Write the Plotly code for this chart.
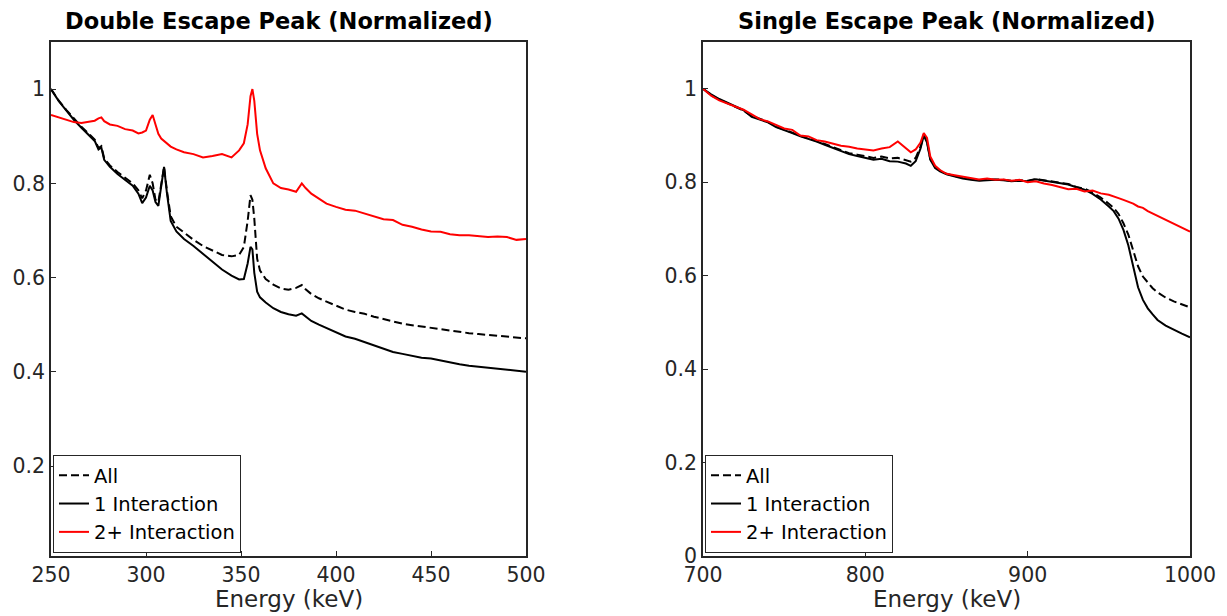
import plotly.graph_objects as go

# ---------------- Double escape peak (left) ----------------
de_energy = [250, 254, 258, 262, 266, 270, 273, 275, 276.5, 278, 281, 285, 289, 293, 296, 298,
             300, 302, 303.5, 305, 306.5, 308, 309.5, 311, 313, 316, 320, 325, 330, 335, 340,
             345, 349, 351.5, 353.5, 355, 356, 357, 358.5, 360, 363, 367, 371, 375, 379, 382,
             384, 387, 391, 395, 400, 405, 410, 415, 420, 425, 430, 435, 440, 445, 450, 455,
             460, 465, 470, 475, 480, 485, 490, 495, 500]
de_all = [1.0, 0.976, 0.956, 0.937, 0.92, 0.905, 0.893, 0.875, 0.879, 0.853, 0.838, 0.824, 0.812,
          0.800, 0.785, 0.768, 0.785, 0.818, 0.80, 0.765, 0.76, 0.795, 0.835, 0.785, 0.73, 0.708,
          0.695, 0.680, 0.667, 0.657, 0.648, 0.645, 0.648, 0.665, 0.72, 0.775, 0.765, 0.725, 0.64,
          0.615, 0.597, 0.585, 0.577, 0.574, 0.578, 0.584, 0.575, 0.565, 0.556, 0.549, 0.540,
          0.532, 0.527, 0.523, 0.517, 0.512, 0.507, 0.502, 0.499, 0.496, 0.494, 0.490, 0.487,
          0.484, 0.482, 0.480, 0.478, 0.477, 0.474, 0.472, 0.471]
de_one = [1.0, 0.975, 0.955, 0.935, 0.918, 0.902, 0.89, 0.872, 0.876, 0.85, 0.835, 0.82, 0.808,
          0.795, 0.778, 0.758, 0.77, 0.795, 0.785, 0.76, 0.752, 0.79, 0.835, 0.78, 0.72, 0.698,
          0.682, 0.667, 0.650, 0.633, 0.617, 0.604, 0.596, 0.597, 0.630, 0.665, 0.660, 0.610,
          0.570, 0.558, 0.547, 0.535, 0.527, 0.522, 0.519, 0.524, 0.518, 0.508, 0.500, 0.493,
          0.485, 0.475, 0.470, 0.463, 0.457, 0.450, 0.442, 0.438, 0.434, 0.430, 0.428, 0.424,
          0.419, 0.416, 0.413, 0.411, 0.409, 0.407, 0.404, 0.402, 0.400]
de_multi = [0.945, 0.940, 0.936, 0.930, 0.928, 0.930, 0.933, 0.938, 0.940, 0.932, 0.925, 0.922,
            0.915, 0.912, 0.906, 0.908, 0.912, 0.935, 0.945, 0.925, 0.905, 0.895, 0.890, 0.885,
            0.878, 0.872, 0.866, 0.862, 0.855, 0.858, 0.862, 0.855, 0.870, 0.885, 0.925, 0.985,
            1.0, 0.975, 0.905, 0.870, 0.832, 0.800, 0.790, 0.787, 0.782, 0.800, 0.790, 0.778,
            0.768, 0.757, 0.750, 0.744, 0.742, 0.736, 0.730, 0.724, 0.722, 0.712, 0.708, 0.702,
            0.698, 0.697, 0.692, 0.690, 0.690, 0.688, 0.686, 0.687, 0.686, 0.680, 0.682]

# ---------------- Single escape peak (right) ----------------
se_energy = [700, 705, 710, 715, 720, 725, 730, 735, 740, 745, 750, 755, 760, 765, 770, 775, 780,
             785, 790, 795, 800, 805, 810, 815, 820, 825, 828, 831, 834, 836, 838, 840, 843, 846,
             850, 855, 860, 865, 870, 875, 880, 885, 890, 895, 900, 905, 910, 915, 920, 925, 930,
             935, 940, 945, 950, 953, 956, 959, 962, 965, 968, 971, 974, 977, 980, 985, 990, 995,
             1000]
se_all = [1.0, 0.986, 0.977, 0.969, 0.962, 0.953, 0.942, 0.935, 0.929, 0.919, 0.913, 0.906, 0.899,
          0.894, 0.888, 0.882, 0.875, 0.869, 0.862, 0.859, 0.855, 0.852, 0.855, 0.851, 0.852,
          0.848, 0.844, 0.852, 0.876, 0.902, 0.887, 0.850, 0.832, 0.825, 0.818, 0.813, 0.810,
          0.806, 0.804, 0.805, 0.806, 0.805, 0.803, 0.804, 0.803, 0.807, 0.804, 0.801, 0.799,
          0.796, 0.790, 0.786, 0.778, 0.767, 0.754, 0.745, 0.732, 0.712, 0.688, 0.655, 0.620,
          0.598, 0.585, 0.573, 0.564, 0.553, 0.545, 0.538, 0.532]
se_one = [1.0, 0.988, 0.978, 0.970, 0.963, 0.954, 0.940, 0.934, 0.928, 0.918, 0.912, 0.905, 0.898,
          0.893, 0.887, 0.880, 0.873, 0.866, 0.860, 0.856, 0.852, 0.848, 0.850, 0.845, 0.844,
          0.840, 0.835, 0.845, 0.872, 0.900, 0.885, 0.848, 0.830, 0.823, 0.817, 0.812, 0.808,
          0.805, 0.803, 0.804, 0.805, 0.804, 0.802, 0.803, 0.802, 0.806, 0.803, 0.800, 0.798,
          0.795, 0.789, 0.784, 0.775, 0.763, 0.748, 0.738, 0.722, 0.698, 0.665, 0.620, 0.575,
          0.548, 0.530, 0.517, 0.505, 0.493, 0.484, 0.476, 0.468]
se_multi = [1.0, 0.985, 0.975, 0.968, 0.962, 0.955, 0.945, 0.935, 0.930, 0.922, 0.915, 0.912,
            0.900, 0.898, 0.890, 0.887, 0.882, 0.878, 0.876, 0.872, 0.870, 0.868, 0.872, 0.875,
            0.887, 0.872, 0.864, 0.870, 0.885, 0.905, 0.895, 0.855, 0.835, 0.826, 0.818, 0.815,
            0.812, 0.810, 0.806, 0.808, 0.805, 0.806, 0.803, 0.805, 0.800, 0.802, 0.797, 0.794,
            0.790, 0.785, 0.786, 0.780, 0.782, 0.776, 0.773, 0.770, 0.766, 0.762, 0.758, 0.754,
            0.748, 0.745, 0.738, 0.733, 0.728, 0.718, 0.711, 0.702, 0.694]

series_names = ["All", "1 Interaction", "2+ Interaction"]
titles = ["Double Escape Peak (Normalized)", "Single Escape Peak (Normalized)"]
x_label = "Energy (keV)"
left_xticks = [250, 300, 350, 400, 450, 500]
right_xticks = [700, 800, 900, 1000]
y_ticks = [0, 0.2, 0.4, 0.6, 0.8, 1]

# The page body has an 8px default margin, so the figure starts at (8, 8).
OFF = 8
W, H = 1227 - OFF, 616 - OFF
INK = "#262626"
FONT = "DejaVu Sans"

# plot area in target-screenshot pixels
L, R, T, B = 51, 1190, 42, 556
PW, PH = R - L, B - T


def fx(p):
    return (p - L) / PW


def fy(p):
    return (B - p) / PH


fig = go.Figure()
styles = [dict(color="black", width=2, dash="8px,4px"),
          dict(color="black", width=2),
          dict(color="#ff0000", width=2)]

for i, (ys, st) in enumerate(zip([de_all, de_one, de_multi], styles)):
    fig.add_trace(go.Scatter(x=de_energy, y=ys, mode="lines", name=series_names[i],
                             line=st, xaxis="x", yaxis="y", legend="legend"))
for i, (ys, st) in enumerate(zip([se_all, se_one, se_multi], styles)):
    fig.add_trace(go.Scatter(x=se_energy, y=ys, mode="lines", name=series_names[i],
                             line=st, xaxis="x2", yaxis="y2", legend="legend2"))

axis_common = dict(showline=True, mirror=True, linecolor=INK, linewidth=1.5,
                   ticks="inside", ticklen=5, tickcolor=INK, showgrid=False, zeroline=False,
                   automargin=False,
                   tickfont=dict(family=FONT, size=20.5, color=INK))

legend_common = dict(xanchor="left", yanchor="bottom", bordercolor=INK, borderwidth=1,
                     bgcolor="white", font=dict(family=FONT, size=19.5, color="black"),
                     itemwidth=30, tracegroupgap=0)

fig.update_layout(
    width=W, height=H,
    margin=dict(l=L - OFF, r=W - (R - OFF), t=T - OFF, b=H - (B - OFF), autoexpand=False),
    paper_bgcolor="white", plot_bgcolor="white",
    xaxis=dict(domain=[0, fx(526)], range=[250, 500], tickvals=left_xticks,
               anchor="y", **axis_common),
    yaxis=dict(domain=[0, 1], range=[0.009, 1.1], tickvals=y_ticks,
               anchor="x", **axis_common),
    xaxis2=dict(domain=[fx(703), 1], range=[700, 1000], tickvals=right_xticks,
                anchor="y2", **axis_common),
    yaxis2=dict(domain=[0, 1], range=[0, 1.1], tickvals=y_ticks,
                anchor="x2", **axis_common),
    legend=dict(x=fx(53), y=fy(553), **legend_common),
    legend2=dict(x=fx(705), y=fy(553), **legend_common),
    showlegend=True,
)

annotations = []
for cx, t in [(279, titles[0]), ((703 + 1190) / 2, titles[1])]:
    annotations.append(dict(x=fx(cx), y=fy(OFF - 1), xref="paper", yref="paper",
                            text="<b>%s</b>" % t, showarrow=False, xanchor="center",
                            yanchor="top", borderpad=0,
                            font=dict(family=FONT, size=22.5, color="black")))
for cx in [(51 + 526) / 2, (703 + 1190) / 2]:
    annotations.append(dict(x=fx(cx), y=fy(599), xref="paper", yref="paper",
                            text=x_label, showarrow=False, xanchor="center", yanchor="middle",
                            font=dict(family=FONT, size=23, color=INK)))
fig.update_layout(annotations=annotations)

fig.write_html("out.html")
